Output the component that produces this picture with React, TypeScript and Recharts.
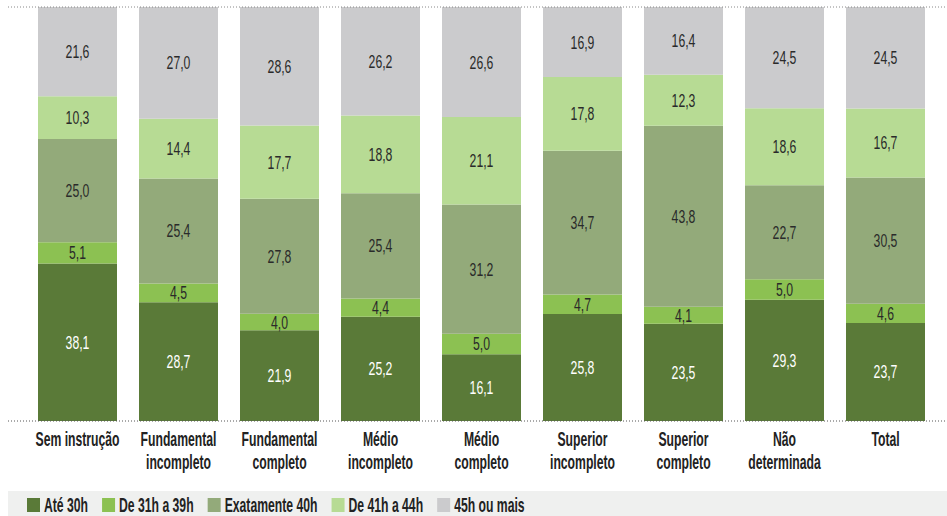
import React from 'react';
import { BarChart, Bar, XAxis, YAxis, ReferenceLine, LabelList } from 'recharts';

const categories = [
  'Sem instrução',
  'Fundamental\nincompleto',
  'Fundamental\ncompleto',
  'Médio\nincompleto',
  'Médio\ncompleto',
  'Superior\nincompleto',
  'Superior\ncompleto',
  'Não\ndeterminada',
  'Total',
];

const ate30 = [38.1, 28.7, 21.9, 25.2, 16.1, 25.8, 23.5, 29.3, 23.7];
const de31a39 = [5.1, 4.5, 4.0, 4.4, 5.0, 4.7, 4.1, 5.0, 4.6];
const exatamente40 = [25.0, 25.4, 27.8, 25.4, 31.2, 34.7, 43.8, 22.7, 30.5];
const de41a44 = [10.3, 14.4, 17.7, 18.8, 21.1, 17.8, 12.3, 18.6, 16.7];
const mais45 = [21.6, 27.0, 28.6, 26.2, 26.6, 16.9, 16.4, 24.5, 24.5];

const series = [
  { key: 'ate30', name: 'Até 30h', color: '#5a7a38', label: '#ffffff' },
  { key: 'de31a39', name: 'De 31h a 39h', color: '#8cc152', label: '#2a2a2a' },
  { key: 'exatamente40', name: 'Exatamente 40h', color: '#93aa7a', label: '#2a2a2a' },
  { key: 'de41a44', name: 'De 41h a 44h', color: '#b7db94', label: '#2a2a2a' },
  { key: 'mais45', name: '45h ou mais', color: '#cbcbcd', label: '#2a2a2a' },
];

const data = categories.map((c, i) => ({
  name: c,
  ate30: ate30[i],
  de31a39: de31a39[i],
  exatamente40: exatamente40[i],
  de41a44: de41a44[i],
  mais45: mais45[i],
}));

// no condensed font installed, so squeeze Liberation Sans horizontally
const FONT = "'Liberation Sans', Arial, sans-serif";
const SQUEEZE_BOLD = 0.61;
const SQUEEZE_LABEL = 0.68;

const fmt = (v: number) => v.toFixed(1).replace('.', ',');

let ctx: CanvasRenderingContext2D | null = null;
const textWidth = (s: string, font: string) => {
  if (!ctx && typeof document !== 'undefined') ctx = document.createElement('canvas').getContext('2d');
  if (!ctx) return s.length * 10;
  ctx.font = font;
  return ctx.measureText(s).width;
};

const CategoryTick = (props: any) => {
  const { x, y, payload } = props;
  const lines = String(payload.value).split('\n');
  return (
    <g>
      {lines.map((l, i) => (
        <text
          key={i}
          transform={`translate(${x},${y + 17 + i * 23}) scale(${SQUEEZE_BOLD},1)`}
          textAnchor="middle"
          fill="#222"
          fontSize={20}
          fontWeight="bold"
          fontFamily={FONT}
        >
          {l}
        </text>
      ))}
    </g>
  );
};

const makeLabel = (color: string) => (props: any) => {
  const { x, y, width, height, value } = props;
  const cx = Number(x) + Number(width) / 2;
  const cy = Number(y) + Number(height) / 2;
  return (
    <text
      transform={`translate(${cx},${cy + 6.5}) scale(${SQUEEZE_LABEL},1)`}
      textAnchor="middle"
      fill={color}
      fontSize={18}
      fontFamily={FONT}
    >
      {fmt(Number(value))}
    </text>
  );
};

const Legend = () => {
  let cursor = 27;
  const items = series.map((s) => {
    const w = textWidth(s.name, `bold 20px ${FONT}`) * SQUEEZE_BOLD;
    const item = { ...s, x: cursor, w };
    cursor += 17 + w + 14;
    return item;
  });
  return (
    <svg width={947} height={25} style={{ position: 'absolute', left: 0, top: 491 }}>
      <rect x={8} y={0} width={939} height={25} fill="#eff0ef" />
      {items.map((it) => (
        <g key={it.key}>
          <rect x={it.x} y={7} width={13} height={14} fill={it.color} />
          <text
            transform={`translate(${it.x + 17},${21}) scale(${SQUEEZE_BOLD},1)`}
            fontSize={20}
            fontWeight="bold"
            fontFamily={FONT}
            fill="#222"
          >
            {it.name}
          </text>
        </g>
      ))}
    </svg>
  );
};

export default function App() {
  return (
    <div style={{ position: 'absolute', left: 0, top: 0, width: 947, height: 516, background: '#fff' }}>
      <BarChart
        width={947}
        height={486}
        data={data}
        stackOffset="expand"
        barCategoryGap={11}
        margin={{ top: 7, right: 0, left: 8, bottom: 0 }}
      >
        <XAxis
          dataKey="name"
          axisLine={false}
          tickLine={false}
          height={65}
          interval={0}
          padding={{ left: 19, right: 11 }}
          tick={<CategoryTick />}
        />
        <YAxis hide domain={[0, 1]} />
        {series.map((s) => (
          <Bar key={s.key} dataKey={s.key} name={s.name} stackId="a" fill={s.color} isAnimationActive={false}>
            <LabelList dataKey={s.key} content={makeLabel(s.label)} />
          </Bar>
        ))}
        <ReferenceLine y={1} stroke="#888" strokeDasharray="1 2" />
        <ReferenceLine y={0} stroke="#555" strokeDasharray="1 2" />
      </BarChart>
      <Legend />
    </div>
  );
}
